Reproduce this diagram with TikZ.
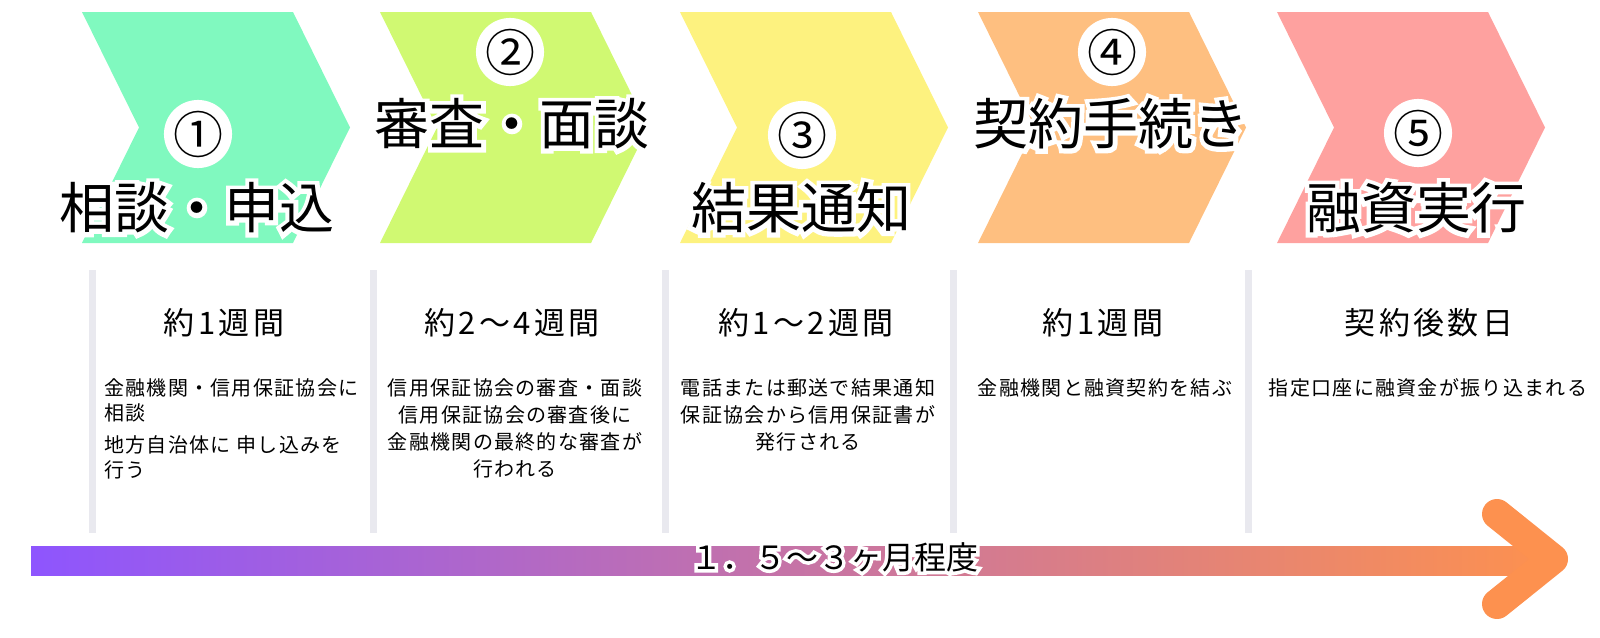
\documentclass[tikz,border=0pt]{standalone}
\usepackage{fontspec}
\setmainfont{Noto Sans CJK JP}
\newfontfamily\jpbody{Noto Sans CJK JP}[LetterSpace=6.5]
\newfontfamily\jphead{Noto Sans CJK JP}[LetterSpace=11]
\newfontfamily\halotitle{Noto Sans CJK JP}[FakeBold=16]
\newfontfamily\halobar{Noto Sans CJK JP}[FakeBold=22]
\definecolor{cA}{HTML}{80F9BF}
\definecolor{cB}{HTML}{D0F972}
\definecolor{cC}{HTML}{FDF27F}
\definecolor{cD}{HTML}{FEBF80}
\definecolor{cE}{HTML}{FEA19F}
\definecolor{sepgray}{HTML}{E9E9EF}
\definecolor{barL}{HTML}{8E55FE}
\definecolor{barR}{HTML}{FD914F}
\newcommand\halo[2]{\rlap{#1\color{white}#2}#2}
\begin{document}
\begin{tikzpicture}[x=1pt,y=-1pt,
  title/.style={inner sep=0pt,font=\fontsize{55}{55}\selectfont},
  numc/.style={circle,fill=white,inner sep=0pt,minimum size=62pt,font=\fontsize{50}{50}\selectfont},
  head/.style={inner sep=0pt,font=\jphead\fontsize{31}{31}\selectfont},
  body/.style={inner sep=0pt,font=\jpbody\fontsize{20}{27}\selectfont,align=center,anchor=north},
  barlabel/.style={inner sep=0pt,font=\fontsize{32}{32}\selectfont}
]
\useasboundingbox (0,0) rectangle (1600,637);
% chevrons
\foreach \xo/\cc in {82/cA,380/cB,680/cC,978/cD,1277/cE}{
  \fill[\cc] (\xo,12) -- ++(211,0) -- ++(57,115.5) -- ++(-57,115.5) -- ++(-211,0) -- ++(57,-115.5) -- cycle;
}
% numbers and titles
\node[numc] (n1) at (198,134) {①};
\node[title] (t1) at (197,208) {\halo{\halotitle}{相談・申込}};
\node[numc] (n2) at (510,52) {②};
\node[title] (t2) at (512,124) {\halo{\halotitle}{審査・面談}};
\node[numc] (n3) at (802,135) {③};
\node[title] (t3) at (801,208) {\halo{\halotitle}{結果通知}};
\node[numc] (n4) at (1112,52) {④};
\node[title] (t4) at (1111,124) {\halo{\halotitle}{契約手続き}};
\node[numc] (n5) at (1418,133) {⑤};
\node[title] (t5) at (1416,208) {\halo{\halotitle}{融資実行}};
% separators
\foreach \sx in {92,373,665,953,1248}{
  \fill[sepgray] (\sx-3.5,270) rectangle (\sx+3.5,533);
}
% headings
\node[head] (h1) at (224,323) {約1週間};
\node[head] (h2) at (512,323) {約2～4週間};
\node[head] (h3) at (806,323) {約1～2週間};
\node[head] (h4) at (1103,323) {約1週間};
\node[head] (h5) at (1429,323) {契約後数日};
% bodies
\node[body,align=left,anchor=north west,font=\jpbody\fontsize{20}{25}\selectfont] (b1) at (104,378) {金融機関・信用保証協会に\\相談\\[7pt]地方自治体に 申し込みを\\行う};
\node[body] (b2) at (515,378) {信用保証協会の審査・面談\\信用保証協会の審査後に\\金融機関の最終的な審査が\\行われる};
\node[body] (b3) at (808,378) {電話または郵送で結果通知\\保証協会から信用保証書が\\発行される};
\node[body] (b4) at (1105,378) {金融機関と融資契約を結ぶ};
\node[body] (b5) at (1428,378) {指定口座に融資金が振り込まれる};
% timeline arrow
\coordinate (a0) at (31,560.5);
\coordinate (atip) at (1553,559);
\coordinate (atop) at (1497,514);
\coordinate (abot) at (1497,604);
\shade[left color=barL,right color=barR] (31,546) rectangle (1550,575);
\draw[barR,line width=30pt,line cap=round,line join=round] (atop) -- (atip) -- (abot);
\node[barlabel] (lbl) at (834,557) {\halo{\halobar}{１．５～３ヶ月程度}};
\end{tikzpicture}
\end{document}
